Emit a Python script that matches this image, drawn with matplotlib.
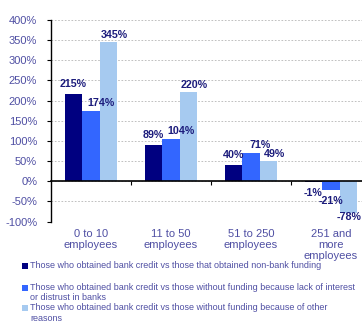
import matplotlib
matplotlib.use('Agg')
from matplotlib import pyplot as plt
from matplotlib.patches import Rectangle
from matplotlib.transforms import blended_transform_factory

plt.rcParams['font.family'] = ['Liberation Sans', 'DejaVu Sans']

# Firm size groups
categories = ['0 to 10\nemployees', '11 to 50\nemployees', '51 to 250\nemployees', '251 and\nmore\nemployees']

# Percentage differences for each comparison
non_bank = [215, 89, 40, -1]
no_interest = [174, 104, 71, -21]
other_reasons = [345, 220, 49, -78]

series_labels = [
    'Those who obtained bank credit vs those that obtained non-bank funding',
    'Those who obtained bank credit vs those without funding because lack of interest\nor distrust in banks',
    'Those who obtained bank credit vs those without funding because of other\nreasons',
]
series_values = [non_bank, no_interest, other_reasons]
series_colors = ['#000080', '#3366FF', '#A6CAF0']

y_ticks = list(range(-100, 401, 50))

TICK_COLOR = '#4f4fa3'
LABEL_COLOR = '#1c1c7c'

W, H = 362, 323
fig = plt.figure(figsize=(W / 100, H / 100), dpi=100)
ax = fig.add_axes([0.141, 0.314, 0.884, 0.6245])
ax.set_xlim(-0.5, 3.5)
ax.set_ylim(-100, 400)

# pixel -> data unit helpers for label nudging
px_x = 4.0 / (0.884 * W)
px_y = 500.0 / (0.6245 * H)

width = 0.22
offsets = [-width, 0, width]
# label nudges in pixels (positive bars: dx, dy above the bar end)
label_dx = [0, 9.5, 6]
label_dy = [10, 8, 7]
x = list(range(len(categories)))

for k, (vals, off, col) in enumerate(zip(series_values, offsets, series_colors)):
    xs = [i + off for i in x]
    bars = ax.bar(xs, vals, width=width, color=col, edgecolor='none', zorder=3)
    for b, v in zip(bars, vals):
        cx = b.get_x() + b.get_width() / 2
        if v >= 0:
            lx = cx + label_dx[k] * px_x
            ly = v + label_dy[k] * px_y
        else:
            lx = cx
            ly = max(v - 11.5 * px_y, -100 + 4.5 * px_y)
        ax.text(lx, ly, f'{v}%', ha='center', va='center', fontsize=7.7,
                fontweight='bold', color=LABEL_COLOR, zorder=5)

ax.set_yticks(y_ticks)
ax.set_yticklabels([f'{t}%' for t in y_ticks], fontsize=8)
ax.tick_params(axis='y', direction='out', length=3, width=0.8, pad=7, colors='black',
               labelcolor=TICK_COLOR)
ax.yaxis.grid(True, color='#b5b5b5', linestyle=(0, (2, 2)), linewidth=0.6, zorder=0)

# category axis sits on the zero line, with boundary ticks only
ax.spines['bottom'].set_position(('data', 0))
ax.spines['bottom'].set_linewidth(1.2)
ax.spines['bottom'].set_zorder(4)
ax.spines['top'].set_visible(False)
ax.spines['right'].set_visible(False)
ax.spines['left'].set_linewidth(1.0)
ax.set_xticks([0.5, 1.5, 2.5])
ax.set_xticklabels([])
ax.tick_params(axis='x', direction='out', length=3, width=0.8, colors='black')

trans = blended_transform_factory(ax.transData, ax.transAxes)
for i, cat in enumerate(categories):
    ax.text(i, -0.035, cat, transform=trans, ha='center', va='top', fontsize=8,
            color=TICK_COLOR, linespacing=1.15)

# legend drawn by hand so each swatch lines up with the first text line
legend_rows = [265.5, 287.5, 308]
for lab, col, ypix in zip(series_labels, series_colors, legend_rows):
    fig.patches.append(Rectangle((22 / W, 1 - (ypix + 3) / H), 6 / W, 6 / H,
                                 transform=fig.transFigure, facecolor=col,
                                 edgecolor='none'))
    fig.text(30 / W, 1 - (ypix - 5) / H, lab, ha='left', va='top', fontsize=6.5,
             color=TICK_COLOR, linespacing=1.25)

fig.savefig('out.png', dpi=100)
